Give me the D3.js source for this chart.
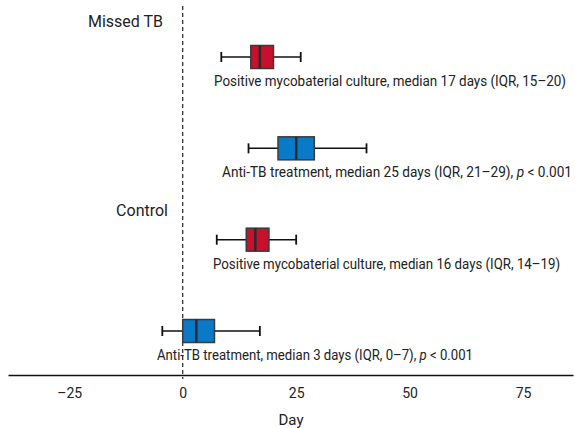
<!DOCTYPE html>
<html>
<head>
<meta charset="utf-8">
<script src="https://cdn.jsdelivr.net/npm/d3@7"></script>
<style>
  body { margin: 0; background: #fff; }
  svg { display: block; font-family: Roboto, "Noto Sans", sans-serif; }
</style>
</head>
<body>
<svg id="chart"></svg>
<script>
 var width = 575;
 var height = 428;

 // data (days)
 const groups = ["Missed TB", "Control"];
 const outcomes = ["Positive mycobaterial culture", "Anti-TB treatment",
                   "Positive mycobaterial culture", "Anti-TB treatment"];
 const whiskerLow = [8.5, 14.5, 7.5, -4.5];
 const q1 = [15, 21, 14, 0];
 const medians = [17, 25, 16, 3];
 const q3 = [20, 29, 19, 7];
 const whiskerHigh = [26, 40.5, 25, 17];
 const pValues = ["", "< 0.001", "", "< 0.001"];
 const xTicks = [-25, 0, 25, 50, 75];

 const colors = ["#C8102E", "#0A7AC8", "#C8102E", "#0A7AC8"];

 // label layout (start x, text width)
 const labelX = [214, 222, 213, 157];
 const labelW = [352, 350, 347, 316];

 const svg = d3.select("#chart")
   .attr("width", width)
   .attr("height", height);

 const x = d3.scaleLinear()
   .domain([-38.5, 86])
   .range([8, 573]);

 const y = d3.scalePoint()
   .domain(d3.range(outcomes.length))
   .range([57, 331]);

 const axisY = 375;
 const boxH = 23;
 const capH = 10;

 // dashed zero line
 svg.append("line")
   .attr("x1", x(0)).attr("x2", x(0))
   .attr("y1", 6).attr("y2", axisY + 4)
   .attr("stroke", "#222")
   .attr("stroke-width", 1.2)
   .attr("stroke-dasharray", "4,3");

 // axis
 const axis = svg.append("g")
   .attr("transform", `translate(0,${axisY})`)
   .call(d3.axisBottom(x)
     .tickValues(xTicks)
     .tickSize(0)
     .tickSizeOuter(0)
     .tickPadding(13)
     .tickFormat(d => d < 0 ? "\u2013" + Math.abs(d) : d));
 axis.select(".domain").attr("stroke", "#111").attr("stroke-width", 1.5);
 axis.selectAll("text")
   .attr("font-family", "Roboto, sans-serif")
   .attr("font-size", 14)
   .attr("fill", "#222");

 svg.append("text")
   .attr("x", 291)
   .attr("y", 425)
   .attr("text-anchor", "middle")
   .attr("font-size", 15)
   .attr("fill", "#222")
   .text("Day");

 // group labels
 svg.append("text")
   .attr("x", 163).attr("y", 27)
   .attr("text-anchor", "end")
   .attr("font-size", 16)
   .attr("fill", "#222")
   .text(groups[0]);
 svg.append("text")
   .attr("x", 168).attr("y", 216)
   .attr("text-anchor", "end")
   .attr("font-size", 16)
   .attr("fill", "#222")
   .text(groups[1]);

 const rows = svg.selectAll(".row")
   .data(d3.range(outcomes.length))
   .enter()
   .append("g")
   .attr("class", "row");

 // whisker line
 rows.append("line")
   .attr("x1", i => x(whiskerLow[i]))
   .attr("x2", i => x(whiskerHigh[i]))
   .attr("y1", i => y(i))
   .attr("y2", i => y(i))
   .attr("stroke", "#111")
   .attr("stroke-width", 1.5);

 // caps
 [whiskerLow, whiskerHigh].forEach(arr => {
   rows.append("line")
     .attr("x1", i => x(arr[i]))
     .attr("x2", i => x(arr[i]))
     .attr("y1", i => y(i) - capH / 2)
     .attr("y2", i => y(i) + capH / 2)
     .attr("stroke", "#111")
     .attr("stroke-width", 1.8);
 });

 // box
 rows.append("rect")
   .attr("x", i => x(q1[i]))
   .attr("y", i => y(i) - boxH / 2)
   .attr("width", i => x(q3[i]) - x(q1[i]))
   .attr("height", boxH)
   .attr("fill", i => colors[i])
   .attr("stroke", "#3a3a3a")
   .attr("stroke-width", 1.5);

 // median
 rows.append("line")
   .attr("x1", i => x(medians[i]))
   .attr("x2", i => x(medians[i]))
   .attr("y1", i => y(i) - boxH / 2)
   .attr("y2", i => y(i) + boxH / 2)
   .attr("stroke", "#2a2a2a")
   .attr("stroke-width", 2.5);

 // annotation text
 const label = rows.append("text")
   .attr("x", i => labelX[i])
   .attr("y", i => y(i) + 29)
   .attr("font-size", 15)
   .attr("fill", "#222")
   .attr("textLength", i => labelW[i])
   .attr("lengthAdjust", "spacingAndGlyphs");

 label.append("tspan")
   .text(i => `${outcomes[i]}, median ${medians[i]} days (IQR, ${q1[i]}\u2013${q3[i]})` + (pValues[i] ? ", " : ""));

 const withP = label.filter(i => pValues[i]);
 withP.append("tspan")
   .attr("font-style", "italic")
   .text("p");
 withP.append("tspan")
   .text(i => " " + pValues[i]);
</script>
</body>
</html>
